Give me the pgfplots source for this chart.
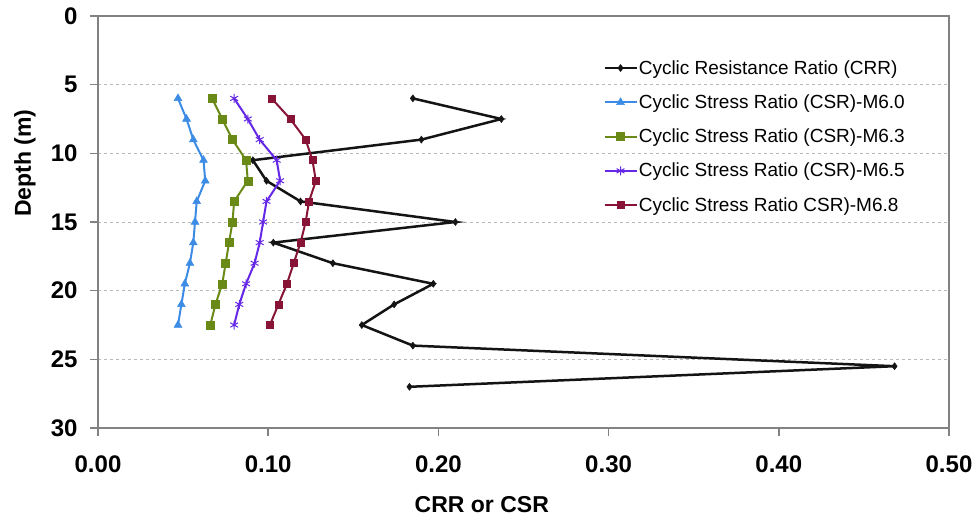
\documentclass[border=0pt]{standalone}
\usepackage{pgfplots}
\pgfplotsset{compat=1.18}
\usepackage{fontspec}
\setmainfont{Liberation Sans}

\definecolor{crrblack}{RGB}{20,20,20}
\definecolor{csrblue}{RGB}{60,140,230}
\definecolor{csrgreen}{RGB}{106,138,24}
\definecolor{csrpurple}{RGB}{100,40,230}
\definecolor{csrred}{RGB}{135,20,55}
\definecolor{axgray}{RGB}{130,130,130}

\begin{document}
\begin{tikzpicture}
\useasboundingbox (0pt,0pt) rectangle (975pt,525pt);
\begin{axis}[%
at={(98pt,97pt)}, anchor=south west,
scale only axis,
width=851pt, height=412pt,
xmin=0, xmax=0.5,
ymin=0, ymax=30,
y dir=reverse,
xtick={0,0.1,0.2,0.3,0.4,0.5},
ytick={0,5,10,15,20,25,30},
xtick pos=bottom, ytick pos=left,
/pgf/number format/assume math mode=true,
ticklabel style={font=\fontsize{24}{24}\selectfont\bfseries},
xticklabel style={yshift=-16pt, /pgf/number format/.cd, fixed, fixed zerofill, precision=2},
yticklabel style={xshift=-9pt},
tick align=outside,
major tick length=8pt,
tick style={axgray, line width=1.5pt},
axis line style={axgray, line width=1.8pt},
ymajorgrids,
major grid style={gray!55, line width=1pt, dash pattern=on 3pt off 3pt},
xlabel={\bfseries CRR or CSR},
ylabel={\bfseries Depth (m)},
label style={font=\fontsize{23}{23}\selectfont},
xlabel style={at={(axis description cs:0.451,-0.187)}, anchor=center},
ylabel style={at={(axis description cs:-0.086,0.643)}, anchor=center},
legend style={at={(axis description cs:0.59,0.90)}, anchor=north west,
  draw=none, fill=none, font=\fontsize{19}{23}\selectfont,
  row sep=17pt, nodes={inner sep=1pt}},
legend cell align=left,
legend image code/.code={%
  \draw[mark repeat=2, mark phase=2] plot coordinates {(0pt,0pt) (16pt,0pt) (32pt,0pt)};},
]
\addplot[crrblack, line width=2.5pt, mark=diamond*, mark size=3.5pt,
  mark options={solid, line width=0.5pt}] coordinates {
(0.185,6) (0.237,7.5) (0.190,9) (0.091,10.5) (0.099,12) (0.119,13.5)
(0.210,15) (0.103,16.5) (0.138,18) (0.197,19.5) (0.174,21) (0.155,22.5)
(0.185,24) (0.468,25.5) (0.183,27)
};
\addplot[csrblue, line width=2pt, mark=triangle*, mark size=4.5pt,
  mark options={solid, line width=0.5pt}] coordinates {
(0.047,6) (0.052,7.5) (0.056,9) (0.062,10.5) (0.063,12) (0.058,13.5)
(0.057,15) (0.056,16.5) (0.054,18) (0.051,19.5) (0.049,21) (0.047,22.5)
};
\addplot[csrgreen, line width=2pt, mark=square*, mark size=4pt,
  mark options={solid, line width=0.5pt}] coordinates {
(0.067,6) (0.073,7.5) (0.079,9) (0.087,10.5) (0.088,12) (0.080,13.5)
(0.079,15) (0.077,16.5) (0.075,18) (0.073,19.5) (0.069,21) (0.066,22.5)
};
\addplot[csrpurple, line width=2pt, mark=asterisk, mark size=4.5pt,
  mark options={solid, line width=1pt}] coordinates {
(0.080,6) (0.088,7.5) (0.095,9) (0.105,10.5) (0.107,12) (0.099,13.5)
(0.097,15) (0.095,16.5) (0.092,18) (0.087,19.5) (0.083,21) (0.080,22.5)
};
\addplot[csrred, line width=2pt, mark=square*, mark size=3.5pt,
  mark options={solid, line width=0.5pt}] coordinates {
(0.102,6) (0.113,7.5) (0.122,9) (0.126,10.5) (0.128,12) (0.124,13.5)
(0.122,15) (0.119,16.5) (0.115,18) (0.111,19.5) (0.106,21) (0.101,22.5)
};
\addlegendentry{Cyclic Resistance Ratio (CRR)}
\addlegendentry{Cyclic Stress Ratio (CSR)-M6.0}
\addlegendentry{Cyclic Stress Ratio (CSR)-M6.3}
\addlegendentry{Cyclic Stress Ratio (CSR)-M6.5}
\addlegendentry{Cyclic Stress Ratio CSR)-M6.8}
\end{axis}
\end{tikzpicture}
\end{document}
